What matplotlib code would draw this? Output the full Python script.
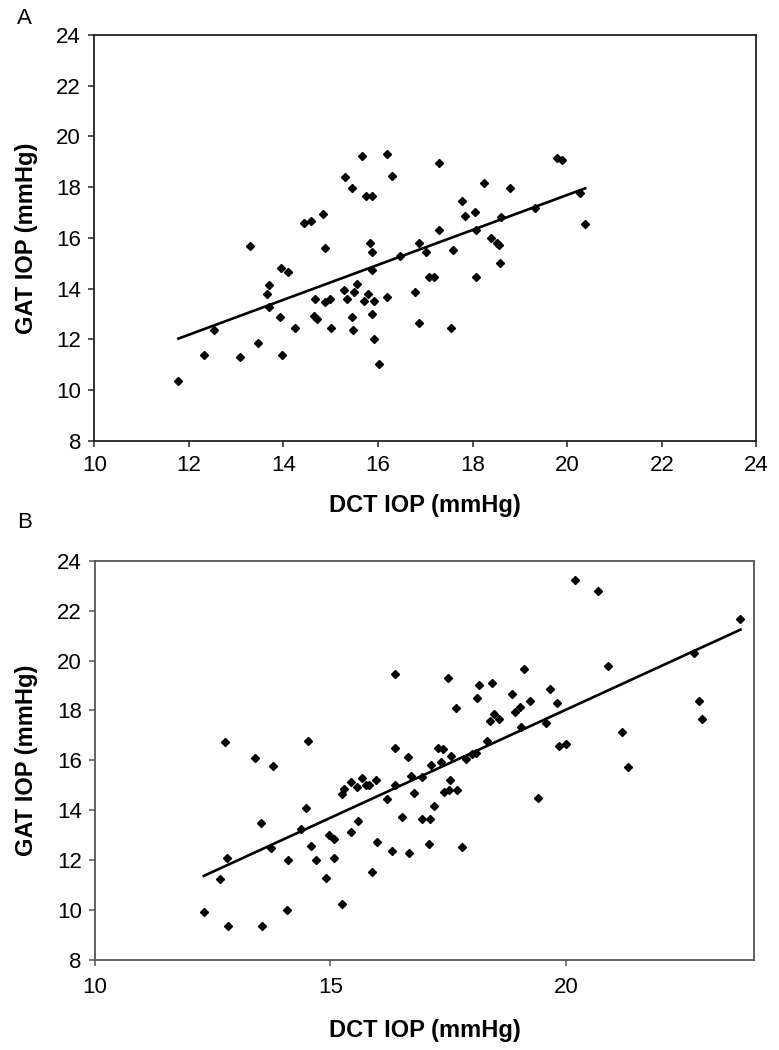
import numpy as np
import matplotlib.pyplot as plt

plt.rcParams['font.family'] = ['Liberation Sans', 'DejaVu Sans']

# panel A: DCT vs GAT (mmHg)
dct_a = [11.78, 12.31, 12.53, 13.09, 13.30, 13.46, 13.66, 13.70, 13.70, 13.92,
         13.94, 13.96, 14.10, 14.25, 14.44, 14.59, 14.84, 14.88, 14.66, 14.64,
         14.70, 14.88, 14.98, 15.01, 15.29, 15.31, 15.35, 15.44, 15.44, 15.47,
         15.49, 15.56, 15.67, 15.70, 15.75, 15.79, 15.83, 15.87, 15.88, 15.87,
         15.87, 15.91, 15.91, 16.01, 16.18, 16.18, 16.30, 16.46, 16.78, 16.86,
         16.87, 17.01, 17.07, 17.19, 17.28, 17.29, 17.55, 17.58, 17.77, 17.83,
         18.05, 18.08, 18.08, 18.25, 18.38, 18.51, 18.56, 18.58, 18.61, 18.80,
         19.31, 19.78, 19.88, 20.27, 20.38]
gat_a = [10.35, 11.37, 12.37, 11.30, 15.68, 11.87, 13.78, 14.15, 13.28, 12.87,
         14.81, 11.37, 14.65, 12.44, 16.58, 16.66, 16.95, 15.59, 13.59, 12.92,
         12.80, 13.46, 13.59, 12.44, 13.94, 18.41, 13.58, 17.98, 12.87, 12.37,
         13.86, 14.17, 19.24, 13.51, 17.65, 13.80, 15.78, 17.65, 15.44, 14.73,
         13.01, 13.51, 12.01, 11.01, 13.65, 19.31, 18.44, 15.30, 13.86, 15.78,
         12.65, 15.44, 14.44, 14.44, 16.30, 18.96, 12.44, 15.51, 17.44, 16.87,
         17.02, 16.30, 14.44, 18.16, 16.00, 15.80, 15.70, 15.02, 16.81, 17.95,
         17.16, 19.16, 19.08, 17.76, 16.56]

# panel B
dct_b = [12.31, 12.65, 12.76, 12.81, 12.82, 13.39, 13.53, 13.55, 13.73, 13.78,
         14.09, 14.08, 14.37, 14.49, 14.52, 14.58, 14.69, 14.90, 14.97, 15.08,
         15.08, 15.25, 15.25, 15.28, 15.43, 15.44, 15.56, 15.59, 15.67, 15.75,
         15.82, 15.89, 15.96, 16.00, 16.20, 16.31, 16.37, 16.37, 16.38, 16.53,
         16.65, 16.67, 16.72, 16.77, 16.94, 16.94, 17.10, 17.12, 17.13, 17.20,
         17.28, 17.34, 17.39, 17.41, 17.50, 17.51, 17.55, 17.56, 17.66, 17.69,
         17.80, 17.89, 18.01, 18.11, 18.10, 18.16, 18.32, 18.39, 18.43, 18.47,
         18.58, 18.85, 18.93, 19.02, 19.04, 19.11, 19.24, 19.40, 19.58, 19.67,
         19.82, 19.85, 20.01, 20.19, 20.69, 20.89, 21.20, 21.32, 22.73, 22.82,
         22.90, 23.71]
gat_b = [9.94, 11.23, 16.72, 12.07, 9.36, 16.08, 13.50, 9.36, 12.50, 15.77,
         12.01, 10.02, 13.24, 14.08, 16.79, 12.58, 12.01, 11.29, 13.01, 12.85,
         12.07, 10.23, 14.65, 14.86, 13.14, 15.13, 14.92, 13.58, 15.28, 15.01,
         15.00, 11.51, 15.22, 12.73, 14.44, 12.38, 19.45, 16.51, 15.00, 13.73,
         16.15, 12.30, 15.36, 14.70, 15.34, 13.65, 12.66, 13.65, 15.81, 14.16,
         16.51, 15.94, 16.44, 14.72, 19.31, 14.81, 15.22, 16.16, 18.08, 14.80,
         12.52, 16.04, 16.24, 18.51, 16.31, 19.01, 16.79, 17.58, 19.09, 17.87,
         17.64, 18.66, 17.95, 18.15, 17.35, 19.66, 18.36, 14.50, 17.50, 18.87,
         18.30, 16.57, 16.65, 23.22, 22.80, 19.79, 17.15, 15.72, 20.29, 18.36,
         17.64, 21.65]

W, H = 779, 1050
fig = plt.figure(figsize=(W / 100, H / 100), dpi=100)
ax_a = fig.add_axes([0.121, 0.5803, 0.850, 0.3864])
ax_b = fig.add_axes([0.122, 0.0857, 0.846, 0.3803])


def draw_panel(ax, x, y, xticks, spine_col, xpad):
    x = np.array(x)
    y = np.array(y)
    ax.plot(x, y, linestyle='none', marker='D', ms=4.4, color='black')
    k, b = np.polyfit(x, y, 1)
    xs = np.array([x.min(), x.max()])
    ax.plot(xs, k * xs + b, color='black', lw=1.9)
    ax.set_xlim(10, 24)
    ax.set_ylim(8, 24)
    ax.set_xticks(xticks)
    ax.set_yticks(range(8, 25, 2))
    for s in ax.spines.values():
        s.set_color(spine_col)
        s.set_linewidth(1.3)
    ax.tick_params(direction='out', length=4.5, width=1.1, color=spine_col,
                   labelsize=16)
    ax.tick_params(axis='y', pad=5)
    ax.tick_params(axis='x', pad=xpad)


draw_panel(ax_a, dct_a, gat_a, range(10, 25, 2), '#222222', 6)
draw_panel(ax_b, dct_b, gat_b, [10, 15, 20], '#555555', 8)

lab = dict(fontsize=17, fontweight='bold', ha='center', va='center')
fig.text(425 / W, 1 - 505 / H, 'DCT IOP (mmHg)', **lab)
fig.text(425 / W, 1 - 1030 / H, 'DCT IOP (mmHg)', **lab)
fig.text(27 / W, 1 - 238 / H, 'GAT IOP (mmHg)', rotation=90, **lab)
fig.text(27 / W, 1 - 760 / H, 'GAT IOP (mmHg)', rotation=90, **lab)

fig.text(17 / W, 1 - 18 / H, 'A', fontsize=16, va='center')
fig.text(17 / W, 1 - 522 / H, 'B', fontsize=16, va='center')

fig.savefig('out.png', dpi=100)
